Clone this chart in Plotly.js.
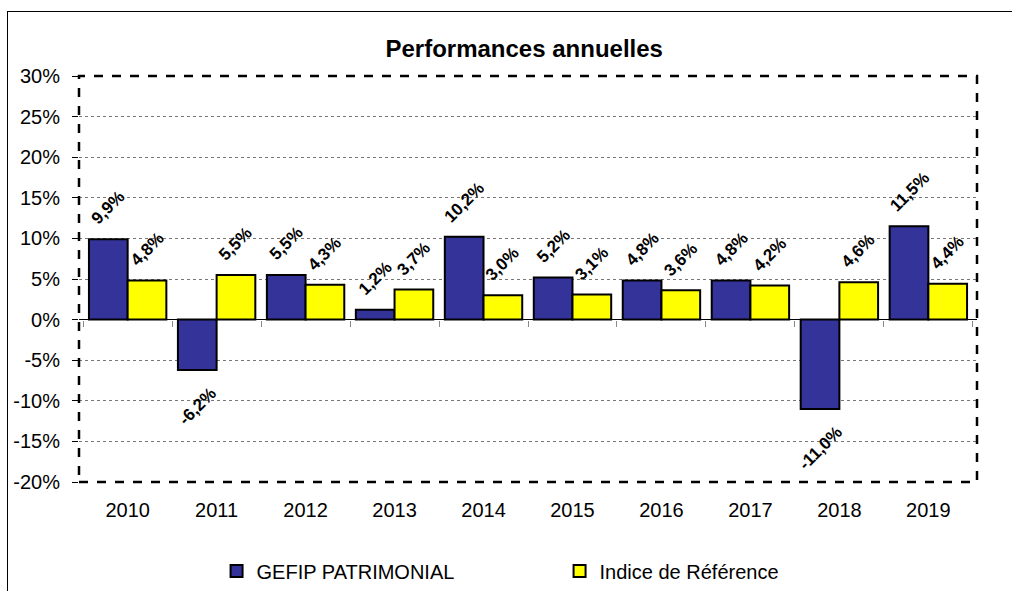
<!DOCTYPE html>
<html>
<head>
<meta charset="utf-8">
<script src="https://cdn.plot.ly/plotly-3.0.1.min.js"></script>
<style>
html,body{margin:0;padding:0;background:#fff;overflow:hidden;}
#chart{width:1012px;height:591px;position:absolute;left:0;top:0;}
#frame{position:absolute;left:7px;top:11px;width:1100px;height:700px;border:1px solid #000;pointer-events:none;}
</style>
</head>
<body>
<div id="chart"></div>
<div id="frame"></div>
<script>
const years = ['2010','2011','2012','2013','2014','2015','2016','2017','2018','2019'];
const gefip = [9.9, -6.2, 5.5, 1.2, 10.2, 5.2, 4.8, 4.8, -11.0, 11.5];
const indice = [4.8, 5.5, 4.3, 3.7, 3.0, 3.1, 3.6, 4.2, 4.6, 4.4];
const yTicks = [-20, -15, -10, -5, 0, 5, 10, 15, 20, 25, 30];
const seriesNames = ['GEFIP PATRIMONIAL', 'Indice de Référence'];

const fmt = v => v.toFixed(1).replace('.', ',') + '%';
const FONT = 'Arial, "Liberation Sans", sans-serif';
const BARGAP = 0.13;

const traces = [
  {type: 'bar', x: years, y: gefip, name: seriesNames[0], hoverinfo: 'skip',
   marker: {color: '#333399', line: {color: '#000', width: 2}}},
  {type: 'bar', x: years, y: indice, name: seriesNames[1], hoverinfo: 'skip',
   marker: {color: '#FFFF00', line: {color: '#000', width: 2}}},
  // dummy trace so the zero-line category tick axis is drawn
  {type: 'scatter', x: years, y: years.map(() => null), xaxis: 'x2', yaxis: 'y',
   showlegend: false, hoverinfo: 'skip'}
];

// data labels, positioned through the category axis (index +/- quarter group width)
const annotations = [];
const shift = (1 - BARGAP) / 4;
[gefip, indice].forEach((series, s) => {
  series.forEach((v, i) => {
    annotations.push({
      x: i + (s === 0 ? -shift : shift), y: v, xref: 'x', yref: 'y',
      text: '<b>' + fmt(v) + '</b>', showarrow: false, textangle: -45,
      xanchor: 'center', yanchor: v >= 0 ? 'bottom' : 'top',
      yshift: v >= 0 ? 8 : -11,
      font: {family: FONT, size: 17, color: '#000'}
    });
  });
});

const layout = {
  width: 1012, height: 591,
  margin: {l: 79, r: 35, t: 76, b: 109},
  paper_bgcolor: '#fff', plot_bgcolor: '#fff',
  font: {family: FONT, size: 20, color: '#000'},
  title: {text: '<b>Performances annuelles</b>', font: {family: FONT, size: 24, color: '#000'},
          xref: 'container', yref: 'container',
          x: 0.518, xanchor: 'center', y: 0.918, yanchor: 'middle'},
  barmode: 'group',
  bargap: BARGAP,
  bargroupgap: 0,
  showlegend: true,
  legend: {orientation: 'h', xref: 'container', yref: 'container',
           x: 0.214, xanchor: 'left', y: 0.034, yanchor: 'middle',
           entrywidth: 298, entrywidthmode: 'pixels', traceorder: 'normal',
           font: {family: FONT, size: 20, color: '#000'}, itemclick: false},
  xaxis: {type: 'category', showgrid: false, zeroline: false, showline: false,
          ticks: 'outside', ticklen: 0, tickcolor: 'rgba(0,0,0,0)', ticklabelstandoff: 10,
          tickfont: {family: FONT, size: 20}, automargin: false},
  xaxis2: {type: 'category', overlaying: 'x', matches: 'x', anchor: 'free', position: 0.4,
           showticklabels: false, ticks: 'outside', tickson: 'boundaries', ticklen: 6,
           tickcolor: '#888', tickwidth: 1, showgrid: false, showline: false, zeroline: false},
  yaxis: {range: [-20, 30], tickvals: yTicks, ticktext: yTicks.map(v => v + '%'),
          showgrid: true, gridcolor: '#777', griddash: 'dot', gridwidth: 1,
          zeroline: true, zerolinecolor: '#000', zerolinewidth: 1.5,
          ticks: 'outside', ticklen: 6, tickcolor: '#000', showline: false,
          ticklabelstandoff: 8,
          tickfont: {family: FONT, size: 20}, automargin: false},
  annotations: annotations,
  shapes: [
    {type: 'rect', xref: 'paper', yref: 'paper', x0: 0, x1: 1, y0: 0, y1: 1,
     line: {color: '#000', width: 2.5, dash: 'dash'}, layer: 'above'}
  ]
};

Plotly.newPlot('chart', traces, layout, {displayModeBar: false, staticPlot: true});
</script>
</body>
</html>
